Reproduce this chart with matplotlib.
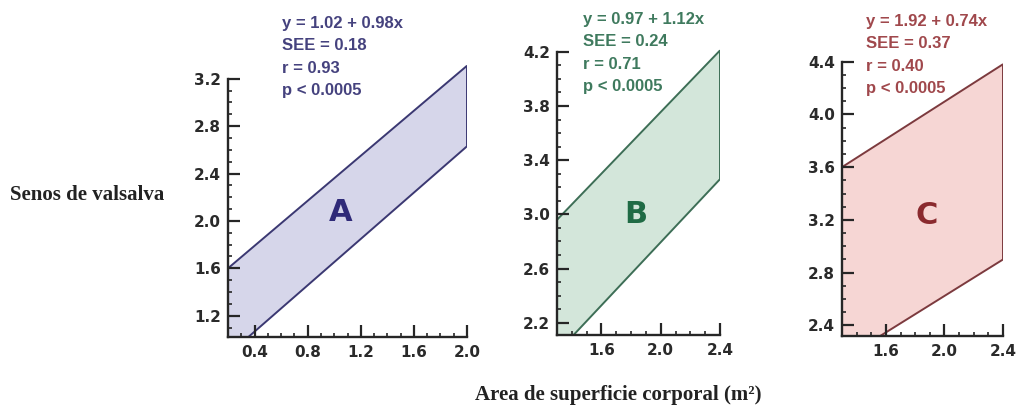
import matplotlib
matplotlib.use('Agg')
import matplotlib.pyplot as plt
from matplotlib.ticker import AutoMinorLocator, FixedLocator

# band edges (x at both ends, upper / lower limit at both ends)
letters = ['A', 'B', 'C']
x_ends = [[0.2, 2.0], [1.3, 2.4], [1.3, 2.4]]
upper_ends = [[1.60, 3.31], [2.96, 4.21], [3.60, 4.38]]
lower_ends = [[0.87, 2.63], [1.98, 3.26], [2.14, 2.90]]

equations = ['y = 1.02 + 0.98x', 'y = 0.97 + 1.12x', 'y = 1.92 + 0.74x']
see_vals = ['SEE = 0.18', 'SEE = 0.24', 'SEE = 0.37']
r_vals = ['r = 0.93', 'r = 0.71', 'r = 0.40']
p_vals = ['p < 0.0005', 'p < 0.0005', 'p < 0.0005']

x_ticks = [[0.4, 0.8, 1.2, 1.6, 2.0], [1.6, 2.0, 2.4], [1.6, 2.0, 2.4]]
y_ticks = [[1.2, 1.6, 2.0, 2.4, 2.8, 3.2],
           [2.2, 2.6, 3.0, 3.4, 3.8, 4.2],
           [2.4, 2.8, 3.2, 3.6, 4.0, 4.4]]

# layout / style
W, H = 1021, 411
fills = ['#d6d6ea', '#d3e6da', '#f6d6d4']
edges = ['#3b3872', '#3d6e56', '#7c3a3e']
text_cols = ['#45427e', '#3f7a5e', '#a0484c']
letter_cols = ['#2f2a78', '#1f6b45', '#8a2a2e']
axes_px = [(228, 467, 61, 337), (557, 720, 45, 335), (842, 1003, 55, 336)]  # left, right, top, bottom
ylims = [(1.02, 3.35), (2.11, 4.25), (2.32, 4.45)]
spine_top = [3.2, 4.2, 4.4]
letter_xy = [(1.05, 2.07), (1.83, 3.0), (1.88, 3.23)]
text_x = [282, 583, 866]
text_base = [28, 24, 26]
line_gap = 22.5
axcol = '#262626'

fig = plt.figure(figsize=(W / 100, H / 100), dpi=100)

for i in range(3):
    l, r, t, b = axes_px[i]
    ax = fig.add_axes([l / W, 1 - b / H, (r - l) / W, (b - t) / H])
    x0, x1 = x_ends[i]
    xs = [x0, x0, x1, x1]
    ys = [lower_ends[i][0], upper_ends[i][0], upper_ends[i][1], lower_ends[i][1]]
    ax.fill(xs, ys, facecolor=fills[i], edgecolor=edges[i], linewidth=1.4, zorder=1)
    ax.set_xlim(x0, x1)
    ax.set_ylim(*ylims[i])
    for s in ['top', 'right']:
        ax.spines[s].set_visible(False)
    for s in ['left', 'bottom']:
        ax.spines[s].set_color(axcol)
        ax.spines[s].set_linewidth(1.7)
        ax.spines[s].set_zorder(3)
    ax.spines['left'].set_bounds(ylims[i][0], spine_top[i])
    ax.set_xticks(x_ticks[i])
    ax.set_yticks(y_ticks[i])
    ax.set_xticklabels(['%.1f' % v for v in x_ticks[i]])
    ax.set_yticklabels(['%.1f' % v for v in y_ticks[i]])
    ax.xaxis.set_minor_locator(AutoMinorLocator(4))
    ax.tick_params(which='major', direction='in', length=8.5, width=1.6, color=axcol,
                   labelsize=11, labelcolor='#2a2a2a')
    ax.tick_params(which='minor', direction='in', length=3, width=1.2, color=axcol)
    ax.tick_params(axis='y', pad=5)
    ax.tick_params(axis='x', pad=6)
    for lab in ax.get_xticklabels() + ax.get_yticklabels():
        lab.set_fontweight('bold')
    # minor y ticks only up to the end of the spine
    minors = []
    v = y_ticks[i][0] - 0.4
    while v <= spine_top[i] + 1e-6:
        if v >= ylims[i][0] and all(abs(v - m) > 1e-6 for m in y_ticks[i]):
            minors.append(round(v, 2))
        v += 0.1
    ax.yaxis.set_minor_locator(FixedLocator(minors))
    ax.patch.set_alpha(0)

    ax.text(letter_xy[i][0], letter_xy[i][1], letters[i], color=letter_cols[i],
            fontsize=22, fontweight='bold', ha='center', va='center', zorder=4)

    lines = [equations[i], see_vals[i], r_vals[i], p_vals[i]]
    for k, s in enumerate(lines):
        fig.text(text_x[i] / W, 1 - (text_base[i] + k * line_gap) / H, s,
                 color=text_cols[i], fontsize=12, fontweight='bold',
                 family='Liberation Sans', va='baseline', ha='left')

fig.text(10 / W, 1 - 195 / H, 'Senos de valsalva', family='Liberation Serif',
         fontweight='bold', fontsize=15, va='center', ha='left', color='#222222')
fig.text(618 / W, 1 - 395 / H, 'Area de superficie corporal (m²)', family='Liberation Serif',
         fontweight='bold', fontsize=15, va='center', ha='center', color='#222222')

fig.savefig('out.png', dpi=100, facecolor='white')
